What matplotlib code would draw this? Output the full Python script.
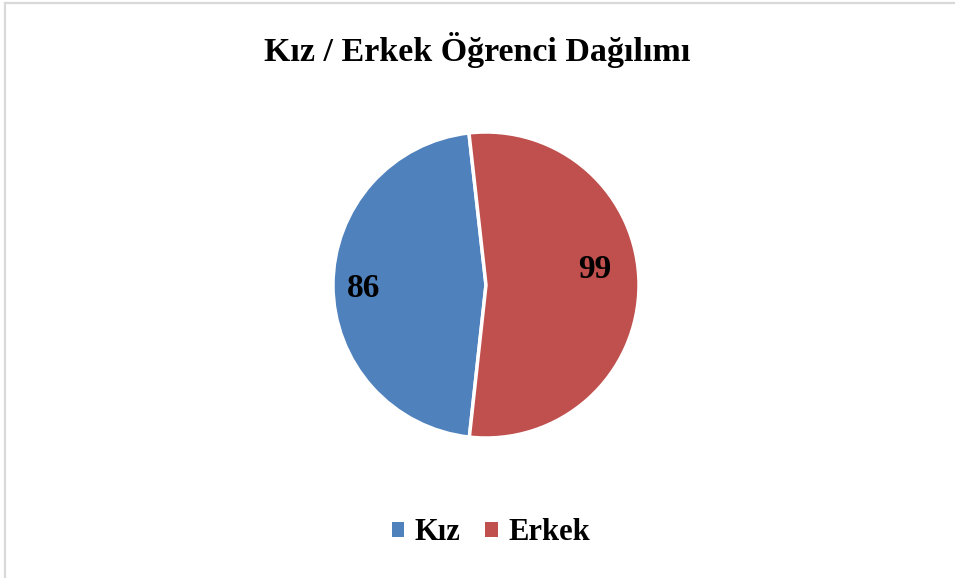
import matplotlib.pyplot as plt
from matplotlib.lines import Line2D
from matplotlib.patches import Patch

title = 'Kız / Erkek Öğrenci Dağılımı'
categories = ['Kız', 'Erkek']
counts = [86, 99]
colors = ['#4F81BD', '#C0504D']

plt.rcParams['font.family'] = ['Liberation Serif', 'DejaVu Serif']

W, H = 955, 578
fig = plt.figure(figsize=(W / 100, H / 100), dpi=100)

# light grey frame (left and top edges visible)
fig.add_artist(Line2D([5 / W, 5 / W], [0, 1 - 3 / H], color='#d9d9d9', lw=1.6))
fig.add_artist(Line2D([5 / W, 1], [1 - 3 / H, 1 - 3 / H], color='#d9d9d9', lw=1.6))

cx, cy, r = 486, 285, 153
ax = fig.add_axes([(cx - r) / W, (H - cy - r) / H, 2 * r / W, 2 * r / H])

# first slice starts slightly left of 12 o'clock
wedges, texts, autotexts = ax.pie(
    counts, colors=colors, startangle=96.4, counterclock=True,
    autopct=lambda p: f'{round(p * sum(counts) / 100)}', pctdistance=0.76,
    wedgeprops=dict(edgecolor='white', linewidth=2.5))
for t in autotexts:
    t.set_fontsize(24)
    t.set_fontweight('bold')
    t.set_color('black')
x, y = autotexts[0].get_position()
autotexts[0].set_position((x - 0.04, y - 0.02))
x, y = autotexts[1].get_position()
autotexts[1].set_position((x - 0.05, y + 0.1))
ax.set_xlim(-1, 1)
ax.set_ylim(-1, 1)

fig.text(0.5, 1 - 50 / H, title, ha='center', va='center',
         fontsize=24.5, fontweight='bold')

handles = [Patch(facecolor=c, edgecolor='none') for c in colors]
fig.legend(handles, categories, loc='center', bbox_to_anchor=(491 / W, 1 - 533 / H),
           ncol=2, frameon=False, prop=dict(size=22, weight='bold'),
           handlelength=0.4, handleheight=0.4, handletextpad=0.35, columnspacing=0.8)

fig.savefig('out.png', dpi=100)
